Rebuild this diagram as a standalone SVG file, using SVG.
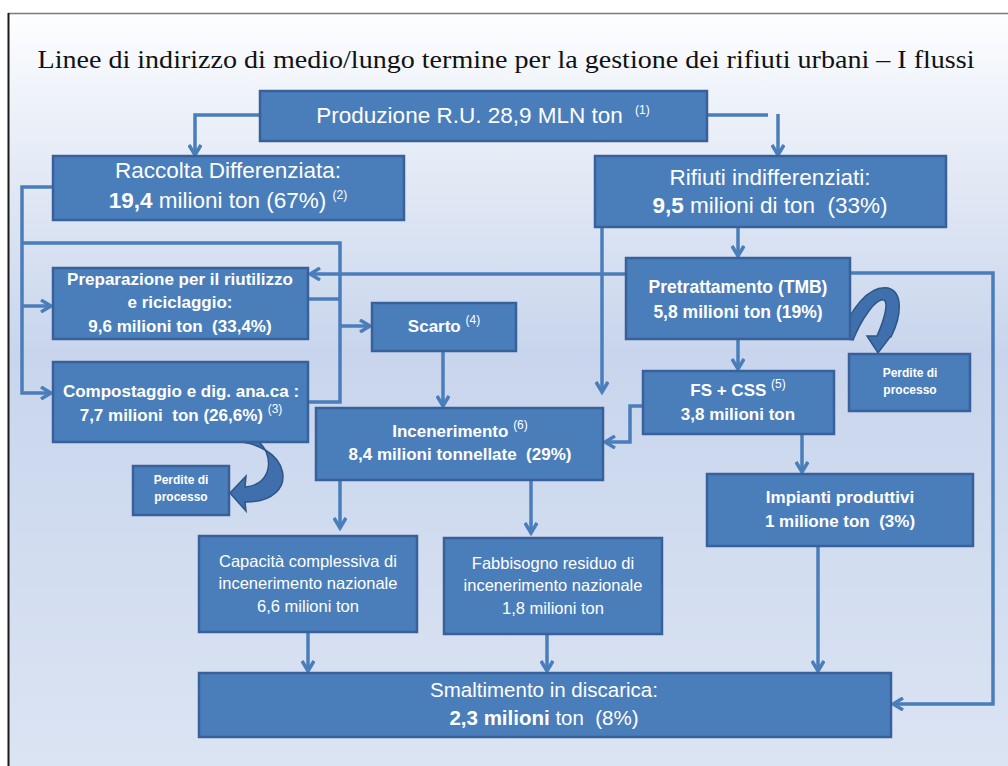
<svg xmlns="http://www.w3.org/2000/svg" width="1008" height="766" viewBox="0 0 1008 766">
<defs>
<linearGradient id="bg" x1="0" y1="0" x2="0" y2="1">
<stop offset="0" stop-color="#fdfeff"/>
<stop offset="0.12" stop-color="#eef2f9"/>
<stop offset="0.45" stop-color="#c8d5ec"/>
<stop offset="1" stop-color="#dbe4f3"/>
</linearGradient>
<marker id="ah" viewBox="0 0 14 14" refX="11.5" refY="7" markerWidth="14" markerHeight="14" markerUnits="userSpaceOnUse" orient="auto">
<path d="M1.5,1 L11.5,7 L1.5,13" fill="none" stroke="#4a7ebb" stroke-width="3.5"/>
</marker>
</defs>
<style>
.box{fill:#4a7ebb;stroke:#38609a;stroke-width:2.5}
.con{fill:none;stroke:#4a7ebb;stroke-width:3.5}
.arr{marker-end:url(#ah)}
.t{font-family:"Liberation Sans",Arial,sans-serif;fill:#ffffff;text-anchor:middle}
.b{font-weight:bold}
.sup{font-size:12px;font-weight:normal}
.curve{fill:#3f70ad;stroke:#2e5585;stroke-width:1.5}
</style>
<rect x="0" y="0" width="1008" height="766" fill="#ffffff"/>
<rect x="8" y="13" width="1000" height="753" fill="url(#bg)"/>
<line x1="8" y1="13.5" x2="1008" y2="13.5" stroke="#7a7a7a" stroke-width="1.5"/>
<line x1="8.5" y1="13" x2="8.5" y2="766" stroke="#1a1a1a" stroke-width="2"/>
<text x="506" y="68" font-family="Liberation Serif,'Times New Roman',serif" font-size="25" fill="#111" text-anchor="middle" textLength="937" lengthAdjust="spacingAndGlyphs">Linee di indirizzo di medio/lungo termine per la gestione dei rifiuti urbani – I flussi</text>

<g id="connectors">
<path class="con arr" d="M260,115 H195 V155"/>
<path class="con" d="M707,115 H768"/>
<path class="con arr" d="M778,114 V155"/>
<path class="con arr" d="M53,187 H22 V393 H51"/>
<path class="con arr" d="M22,306 H51"/>
<path class="con" d="M22,243 H340 V402 H308"/>
<path class="con" d="M308,299 H340"/>
<path class="con arr" d="M340,326 H370"/>
<path class="con arr" d="M443,351 V406"/>
<path class="con arr" d="M738,227 V256"/>
<path class="con arr" d="M602,227 V392"/>
<path class="con arr" d="M626,274 H310"/>
<path class="con arr" d="M850,273 H993 V704 H893"/>
<path class="con arr" d="M738,339 V369"/>
<path class="con arr" d="M643,406 H630 V442 H605"/>
<path class="con arr" d="M802,434 V472"/>
<path class="con arr" d="M340,480 V528"/>
<path class="con arr" d="M531,480 V533"/>
<path class="con arr" d="M308,632 V671"/>
<path class="con arr" d="M547,634 V671"/>
<path class="con arr" d="M818,546 V671"/>
<path class="curve" d="M226,441 C294,440 302,503 245,502 L246,511 L230,493 L246,476 L245,487 C274,485 274,452 257,441 Z"/>
<path class="curve" d="M840,338 C850,310 868,285 888,288 C903,292 902,315 891,337 L890,337 L878,353 L867,336 L877,336 C886,316 888,302 884,300 C876,298 862,318 853,340 Z"/>
</g>

<g id="produzione">
<rect class="box" x="260" y="91" width="447" height="50"/>
<text class="t" x="483" y="123" font-size="22.5">Produzione R.U. 28,9 MLN ton <tspan class="sup" dx="6" dy="-9">(1)</tspan></text>
</g>
<g id="raccolta">
<rect class="box" x="53" y="156" width="351" height="64"/>
<text class="t" x="228" y="178" font-size="22.5">Raccolta Differenziata:</text>
<text class="t" x="228" y="208" font-size="22.5"><tspan class="b">19,4</tspan> milioni ton (67%) <tspan class="sup" dy="-9">(2)</tspan></text>
</g>
<g id="rifiuti">
<rect class="box" x="595" y="156" width="351" height="71"/>
<text class="t" x="770" y="185" font-size="22.5">Rifiuti indifferenziati:</text>
<text class="t" x="770" y="213" font-size="22.5" xml:space="preserve"><tspan class="b">9,5</tspan> milioni di ton  (33%)</text>
</g>
<g id="preparazione">
<rect class="box" x="53" y="268" width="255" height="71"/>
<text class="t b" x="180" y="285" font-size="17">Preparazione per il riutilizzo</text>
<text class="t b" x="180" y="308" font-size="17">e riciclaggio:</text>
<text class="t b" x="180" y="332" font-size="17" xml:space="preserve">9,6 milioni ton  (33,4%)</text>
</g>
<g id="compostaggio">
<rect class="box" x="53" y="362" width="255" height="80"/>
<text class="t b" x="181" y="397" font-size="17">Compostaggio e dig. ana.ca :</text>
<text class="t b" x="181" y="421" font-size="17" xml:space="preserve">7,7 milioni  ton (26,6%) <tspan class="sup" dy="-8">(3)</tspan></text>
</g>
<g id="perdite-sx">
<rect class="box" x="133" y="466" width="96" height="49"/>
<text class="t b" x="181" y="484" font-size="12">Perdite di</text>
<text class="t b" x="181" y="501" font-size="12">processo</text>
</g>
<g id="scarto">
<rect class="box" x="372" y="303" width="144" height="48"/>
<text class="t b" x="444" y="332" font-size="17">Scarto <tspan class="sup" dy="-8">(4)</tspan></text>
</g>
<g id="incenerimento">
<rect class="box" x="316" y="408" width="287" height="72"/>
<text class="t b" x="460" y="437" font-size="17">Incenerimento <tspan class="sup" dy="-8">(6)</tspan></text>
<text class="t b" x="460" y="460" font-size="17" xml:space="preserve">8,4 milioni tonnellate  (29%)</text>
</g>
<g id="pretrattamento">
<rect class="box" x="626" y="258" width="224" height="81"/>
<text class="t b" x="738" y="293" font-size="17.5">Pretrattamento (TMB)</text>
<text class="t b" x="738" y="318" font-size="17.5">5,8 milioni ton (19%)</text>
</g>
<g id="perdite-dx">
<rect class="box" x="849" y="354" width="121" height="57"/>
<text class="t b" x="910" y="377" font-size="12">Perdite di</text>
<text class="t b" x="910" y="394" font-size="12">processo</text>
</g>
<g id="fs-css">
<rect class="box" x="643" y="371" width="191" height="63"/>
<text class="t b" x="738" y="396" font-size="17">FS + CSS <tspan class="sup" dy="-8">(5)</tspan></text>
<text class="t b" x="738" y="420" font-size="17">3,8 milioni ton</text>
</g>
<g id="impianti">
<rect class="box" x="707" y="474" width="266" height="72"/>
<text class="t b" x="840" y="503" font-size="17">Impianti produttivi</text>
<text class="t b" x="840" y="527" font-size="17" xml:space="preserve">1 milione ton  (3%)</text>
</g>
<g id="capacita">
<rect class="box" x="199" y="536" width="218" height="96"/>
<text class="t" x="308" y="567" font-size="16.5">Capacità complessiva di</text>
<text class="t" x="308" y="589" font-size="16.5">incenerimento nazionale</text>
<text class="t" x="308" y="612" font-size="16.5">6,6 milioni ton</text>
</g>
<g id="fabbisogno">
<rect class="box" x="444" y="538" width="218" height="96"/>
<text class="t" x="553" y="569" font-size="16.5">Fabbisogno residuo di</text>
<text class="t" x="553" y="591" font-size="16.5">incenerimento nazionale</text>
<text class="t" x="553" y="614" font-size="16.5">1,8 milioni ton</text>
</g>
<g id="smaltimento">
<rect class="box" x="199" y="673" width="692" height="64"/>
<text class="t" x="544" y="697" font-size="20.5">Smaltimento in discarica:</text>
<text class="t" x="544" y="725" font-size="20.5" xml:space="preserve"><tspan class="b">2,3 milioni</tspan> ton  (8%)</text>
</g>
</svg>
